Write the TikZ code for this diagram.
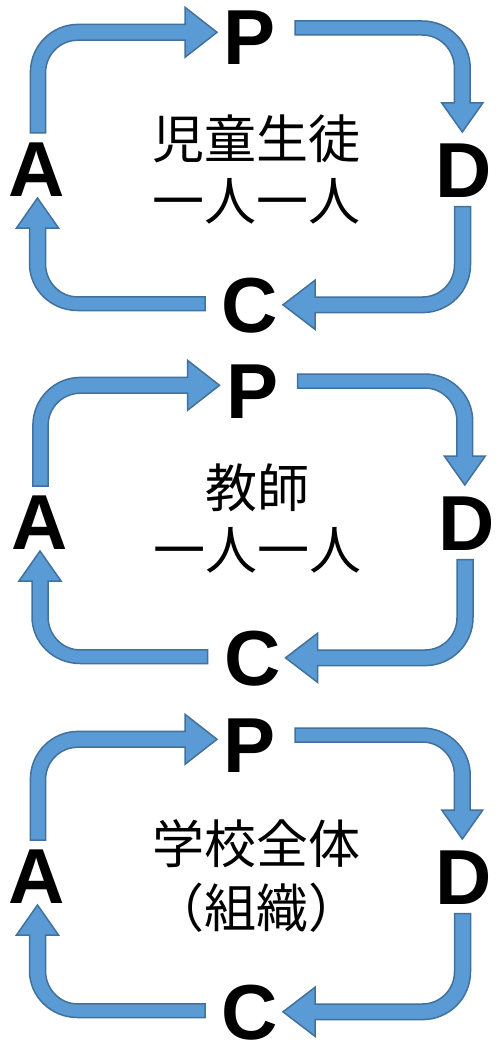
\documentclass[tikz,border=0pt]{standalone}
\usepackage{fontspec}
\setmainfont{Liberation Sans}
\newfontfamily\jpfont{Noto Sans CJK JP}
\definecolor{arrfill}{HTML}{5B9BD5}
\definecolor{arrline}{HTML}{41719C}
\tikzset{
  arrowshape/.style={fill=arrfill, draw=arrline, line width=1.5pt, line join=miter},
  letterstyle/.style={font=\fontsize{78}{80}\selectfont\bfseries, inner sep=0pt, anchor=base},
  jptext/.style={font=\jpfont\fontsize{52}{60}\selectfont, inner sep=0pt, anchor=base}
}
\def\Rad{40}
% #1 sx, #2 sy, #3 rotation, #4 L1, #5 L2, #6 head length, #7 w1, #8 w2, #9 head half-width
\newcommand{\pdarrow}[9]{%
  \begin{scope}[shift={(#1,#2)},rotate=#3]
    \filldraw[arrowshape] (-#7,0) -- (-#7,{-#4+\Rad})
      .. controls (-#7,{-#4+\Rad-0.5523*(\Rad+#8)}) and ({\Rad-0.5523*(\Rad+#7)},{-#4-#8}) .. (\Rad,{-#4-#8})
      -- (#5,{-#4-#8}) -- (#5,{-#4-#9}) -- ({#5+#6},-#4) -- (#5,{-#4+#9}) -- (#5,{-#4+#8})
      -- (\Rad,{-#4+#8})
      .. controls ({\Rad-0.5523*(\Rad-#7)},{-#4+#8}) and (#7,{-#4+\Rad-0.5523*(\Rad-#8)}) .. (#7,{-#4+\Rad})
      -- (#7,0) -- cycle;
  \end{scope}}
% #1 dx, #2 dy, #3 suffix, #4 text x, #5 row1 baseline, #6 row1, #7 row2 baseline, #8 row2
\newcommand{\pdcycle}[8]{%
  \begin{scope}[shift={(#1,#2)}]
    \pdarrow{38}{133}{0}{100.7}{147}{32}{7.6}{7.9}{25}
    \pdarrow{295}{28}{-90}{167.3}{75}{29}{7}{7.9}{20.5}
    \pdarrow{462.5}{206.5}{180}{98.3}{147.5}{32}{8}{7.8}{24.5}
    \pdarrow{205}{303.7}{90}{167.5}{75.7}{30}{6.8}{8}{21}
    \node[letterstyle] (P#3) at (250,65) {P};
    \node[letterstyle] (D#3) at (464,197) {D};
    \node[letterstyle] (C#3) at (250,332) {C};
    \node[letterstyle] (A#3) at (37,196) {A};
    \node[jptext] (T#3a) at (#4,#5) {#6};
    \node[jptext] (T#3b) at (#4,#7) {#8};
  \end{scope}}
\begin{document}
\begin{tikzpicture}[x=1pt,y=-1pt]
  \useasboundingbox[fill=white] (0,0) rectangle (496,1046);
  \pdcycle{0}{0}{1}{256.5}{158.5}{児童生徒}{220}{一人一人}
  \pdcycle{2.5}{353}{2}{255}{154.5}{教師}{216}{一人一人}
  \pdcycle{0}{707}{3}{256.5}{156.5}{学校全体}{220}{（組織）}
\end{tikzpicture}
\end{document}
